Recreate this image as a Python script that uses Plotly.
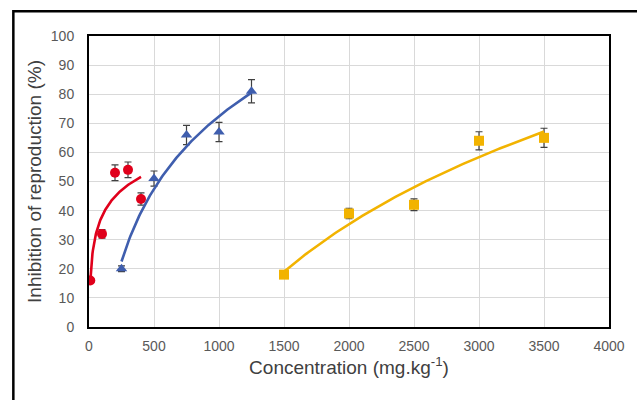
import numpy as np
import plotly.graph_objects as go

# Data
red_x = [10, 100, 200, 300, 400]
red_y = [16, 32, 53, 54, 44]
red_err = [0.5, 1.5, 2.7, 2.7, 2.1]

blue_x = [250, 500, 750, 1000, 1250]
blue_y = [20, 51, 66, 67, 81]
blue_err = [1.0, 2.6, 3.3, 3.3, 4.0]

yellow_x = [1500, 2000, 2500, 3000, 3500]
yellow_y = [18, 39, 42, 64, 65]
yellow_err = [0.5, 1.8, 2.0, 3.1, 3.3]

x_ticks = [0, 500, 1000, 1500, 2000, 2500, 3000, 3500, 4000]
y_ticks = [0, 10, 20, 30, 40, 50, 60, 70, 80, 90, 100]

RED = "#E0001B"
BLUE = "#3F5EAE"
YELLOW = "#F2B300"
FONT = "Arial, 'Liberation Sans', sans-serif"


def log_trend(xs, ys):
    a, b = np.polyfit(np.log(xs), ys, 1)
    xx = np.linspace(min(xs), max(xs), 120)
    return xx, a * np.log(xx) + b


fig = go.Figure()
for xs, ys, errs, col, sym in [
    (red_x, red_y, red_err, RED, "circle"),
    (blue_x, blue_y, blue_err, BLUE, "triangle-up"),
    (yellow_x, yellow_y, yellow_err, YELLOW, "square"),
]:
    fig.add_trace(go.Scatter(
        x=xs, y=ys, mode="markers",
        marker=dict(symbol=sym, size=10, color=col, line=dict(width=0)),
        error_y=dict(type="data", array=errs, color="#404040", thickness=1.2, width=3.5),
        showlegend=False, hoverinfo="x+y"))
    tx, ty = log_trend(xs, ys)
    fig.add_trace(go.Scatter(x=tx, y=ty, mode="lines",
                             line=dict(color=col, width=2.6),
                             showlegend=False, hoverinfo="skip"))

fig.update_layout(
    width=637, height=400,
    margin=dict(l=88.7, r=23.5, t=35.7, b=73),
    paper_bgcolor="white", plot_bgcolor="white",
    font=dict(family=FONT, color="#595959", size=14),
    xaxis=dict(range=[0, 4000], tickvals=x_ticks, ticktext=[str(v) for v in x_ticks],
               showgrid=True, gridcolor="#d9d9d9", gridwidth=1.3, zeroline=False,
               showline=True, linecolor="black", linewidth=2, mirror=True,
               ticks="", ticklabelstandoff=5,
               title=dict(text="Concentration (mg.kg<sup>-1</sup>)", standoff=7,
                          font=dict(size=19, color="#404040"))),
    yaxis=dict(range=[0, 100], tickvals=y_ticks, ticktext=[str(v) for v in y_ticks],
               showgrid=True, gridcolor="#d9d9d9", gridwidth=1.3, zeroline=False,
               showline=True, linecolor="black", linewidth=2, mirror=True,
               ticks="", ticklabelstandoff=10,
               title=dict(text="Inhibition of reproduction (%)", standoff=4,
                          font=dict(size=19, color="#404040"))),
    shapes=[dict(type="path", xref="paper", yref="paper",
                 path="M -0.1455,-0.5 L -0.1455,1.0848 L 1.2,1.0848",
                 line=dict(color="black", width=2.5), layer="above")],
)

fig.write_html("out.html")
